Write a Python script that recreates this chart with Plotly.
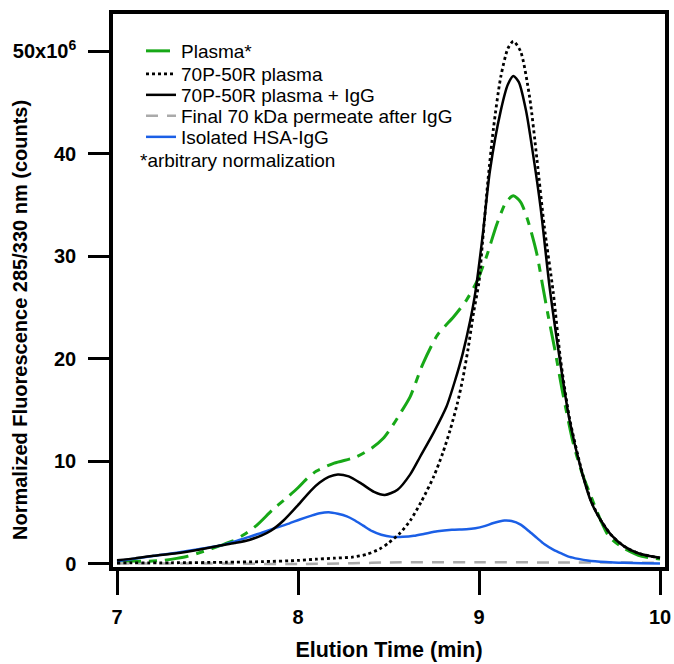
import plotly.graph_objects as go

# ---- data (values in units of 10^6 counts) ----
t_plasma = [7.0, 7.08, 7.16, 7.25, 7.33, 7.39, 7.48, 7.57, 7.64, 7.70, 7.77, 7.86, 7.93, 8.0, 8.05, 8.10,
            8.2, 8.32, 8.41, 8.47, 8.52, 8.57, 8.62, 8.69, 8.77, 8.86, 8.93, 8.99, 9.04, 9.10, 9.15, 9.19,
            9.23, 9.27, 9.32, 9.35, 9.38, 9.42, 9.46, 9.52, 9.57, 9.62, 9.67, 9.72, 9.80, 9.90, 10.0]
v_plasma = [0.3, 0.25, 0.2, 0.3, 0.5, 0.7, 1.2, 1.75, 2.2, 2.8, 3.7, 5.25, 6.3, 7.4, 8.3, 9.0,
            9.8, 10.4, 11.3, 12.2, 13.4, 14.8, 16.3, 19.5, 22.3, 24.1, 25.7, 27.6, 29.9, 33.2, 35.3, 35.9,
            35.3, 33.5, 30.2, 27.3, 24.4, 20.8, 16.9, 11.8, 8.8, 6.5, 4.3, 2.6, 1.5, 0.7, 0.45]

t_70p = [7.0, 7.3, 7.6, 7.8, 8.0, 8.1, 8.2, 8.3, 8.38, 8.45, 8.5, 8.56, 8.62, 8.68, 8.75, 8.8, 8.84,
         8.88, 8.91, 8.94, 8.97, 9.0, 9.02, 9.05, 9.08, 9.12, 9.16, 9.19, 9.23, 9.28, 9.32, 9.36, 9.41,
         9.45, 9.5, 9.57, 9.62, 9.67, 9.73, 9.8, 9.88, 9.95, 10.0]
v_70p = [0.05, 0.07, 0.12, 0.18, 0.3, 0.42, 0.52, 0.62, 0.9, 1.4, 2.0, 2.9, 4.2, 6.0, 8.5, 10.8, 13.0,
         15.6, 18.0, 21.0, 24.5, 27.5, 31.5, 37.5, 42.5, 47.5, 50.3, 51.0, 50.0, 45.5, 39.5, 33.0, 26.5,
         20.0, 14.2, 8.9, 6.1, 4.3, 2.8, 1.7, 1.0, 0.7, 0.55]

t_igg = [7.0, 7.1, 7.2, 7.33, 7.45, 7.57, 7.65, 7.73, 7.8, 7.85, 7.92, 8.0, 8.07, 8.12, 8.17, 8.22,
         8.28, 8.35, 8.42, 8.48, 8.55, 8.62, 8.674, 8.75, 8.82, 8.87, 8.91, 8.95, 8.98, 9.02, 9.06,
         9.12, 9.16, 9.19, 9.22, 9.26, 9.30, 9.34, 9.39, 9.45, 9.50, 9.57, 9.62, 9.67, 9.73, 9.80,
         9.88, 9.95, 10.0]
v_igg = [0.32, 0.5, 0.75, 1.0, 1.35, 1.75, 2.0, 2.3, 2.75, 3.2, 4.2, 5.7, 7.1, 7.9, 8.45, 8.7,
         8.5, 7.8, 7.0, 6.7, 7.2, 8.7, 10.4, 12.8, 15.3, 18.0, 20.5, 23.6, 26.5, 32.0, 38.3,
         44.2, 46.8, 47.6, 47.0, 44.2, 39.8, 34.8, 27.0, 19.5, 14.0, 8.8, 6.0, 4.3, 2.8, 1.7,
         1.0, 0.7, 0.55]

t_perm = [7.0, 7.5, 8.0, 8.3, 8.5, 9.0, 9.5, 10.0]
v_perm = [0.0, 0.0, -0.05, 0.02, 0.1, 0.12, 0.1, 0.08]

t_hsa = [7.0, 7.15, 7.33, 7.45, 7.57, 7.65, 7.73, 7.8, 7.88, 7.95, 8.01, 8.07, 8.12, 8.17, 8.22, 8.27,
         8.31, 8.36, 8.41, 8.46, 8.52, 8.58, 8.64, 8.7, 8.77, 8.85, 8.93, 8.98, 9.03, 9.08, 9.14, 9.18,
         9.23, 9.28, 9.32, 9.36, 9.41, 9.46, 9.5, 9.55, 9.6, 9.7, 9.8, 9.9, 10.0]
v_hsa = [0.22, 0.6, 1.05, 1.4, 1.75, 2.15, 2.6, 3.0, 3.5, 3.9, 4.3, 4.65, 4.9, 5.0, 4.85, 4.6,
         4.25, 3.7, 3.15, 2.8, 2.6, 2.6, 2.7, 2.9, 3.15, 3.3, 3.35, 3.45, 3.65, 3.95, 4.2, 4.15,
         3.8, 3.1, 2.5, 1.9, 1.36, 0.95, 0.65, 0.45, 0.3, 0.15, 0.07, 0.03, 0.0]

names = ["Plasma*", "70P-50R plasma", "70P-50R plasma + IgG",
         "Final 70 kDa permeate after IgG", "Isolated HSA-IgG"]
x_ticks = [7, 8, 9, 10]
y_ticks = [0, 10, 20, 30, 40, 50]
y_ticktext = ["0", "10", "20", "30", "40", "50x10<sup>6</sup>"]

GREEN = "#17a817"
BLUE = "#1b5fe6"
GREY = "#aaaaaa"
FONT = "Liberation Sans, Arial, sans-serif"

fig = go.Figure()
series = [
    (t_perm, v_perm, dict(color=GREY, width=2.5, dash="12px,9px"), names[3], "legend4"),
    (t_plasma, v_plasma, dict(color=GREEN, width=3, dash="24px,8px,8px,8px"), names[0], "legend"),
    (t_hsa, v_hsa, dict(color=BLUE, width=2.5), names[4], "legend5"),
    (t_70p, v_70p, dict(color="black", width=2.8, dash="dot"), names[1], "legend2"),
    (t_igg, v_igg, dict(color="black", width=2.5), names[2], "legend3"),
]
for t, v, ln, nm, lg in series:
    ln = dict(ln)
    ln["shape"] = "spline"
    ln["smoothing"] = 0.7
    fig.add_trace(go.Scatter(x=t, y=v, mode="lines", line=ln, name=nm, legend=lg))

def leg(ypx):
    return dict(x=(141 - 113) / 552, y=(567 - ypx) / 553, xanchor="left", yanchor="middle",
                bgcolor="rgba(0,0,0,0)", borderwidth=0,
                font=dict(family=FONT, size=19, color="black"))

fig.update_layout(
    width=674, height=664,
    margin=dict(l=113, r=9, t=14, b=97, autoexpand=False),
    paper_bgcolor="white", plot_bgcolor="white",
    showlegend=True,
    legend=leg(51), legend2=leg(74), legend3=leg(95), legend4=leg(116), legend5=leg(137),
    font=dict(family=FONT, color="black"),
)

fig.update_xaxes(
    range=[6.9779, 10.0276], tickvals=x_ticks, ticks="outside", ticklen=24, tickwidth=3,
    tickcolor="black", showline=True, linewidth=3.5, linecolor="black", mirror=True,
    showgrid=False, zeroline=False, ticklabelstandoff=5, automargin=False,
    tickfont=dict(family=FONT, size=20, color="black", weight="bold"),
    title=dict(text="Elution Time (min)", standoff=16,
               font=dict(family=FONT, size=21.5, color="black", weight="bold")),
)
fig.update_yaxes(
    range=[-0.342, 53.66], tickvals=y_ticks, ticktext=y_ticktext, ticks="outside", ticklen=21,
    tickwidth=3, tickcolor="black", showline=True, linewidth=3.5, linecolor="black", mirror=True,
    showgrid=False, zeroline=False, ticklabelstandoff=8, automargin=False,
    tickfont=dict(family=FONT, size=20, color="black", weight="bold"),
)

fig.add_annotation(text="Normalized Fluorescence 285/330 nm (counts)", textangle=-90,
                   xref="paper", yref="paper", x=(20 - 113) / 552, y=(567 - 320) / 553,
                   xanchor="center", yanchor="middle", showarrow=False,
                   font=dict(family=FONT, size=20, color="black", weight="bold"))
fig.add_annotation(text="*arbitrary normalization", xref="paper", yref="paper",
                   x=(138 - 113) / 552, y=(567 - 160) / 553, xanchor="left", yanchor="middle",
                   showarrow=False, font=dict(family=FONT, size=19, color="black"))

fig.write_html("out.html", config={"displayModeBar": False},
               post_script="document.body.style.margin='0px';")
